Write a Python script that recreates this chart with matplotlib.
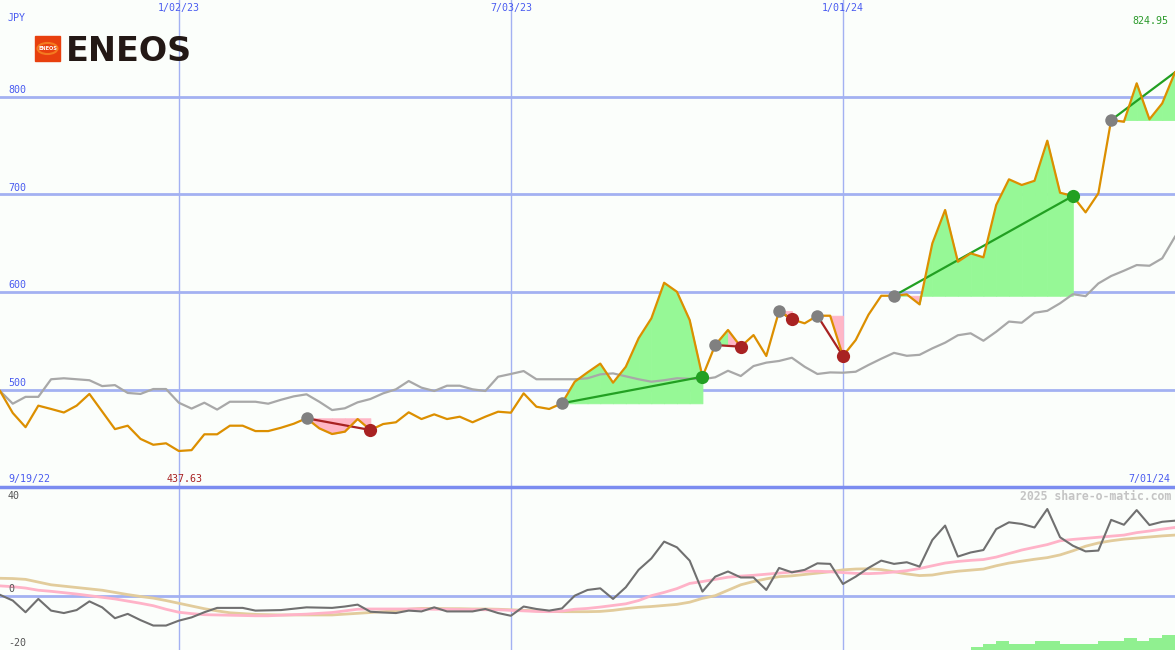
import matplotlib
matplotlib.use('Agg')
import matplotlib.pyplot as plt
import pandas as pd
from matplotlib.patches import Rectangle, Circle

# weekly closes, ENEOS (JPY)
dates = pd.date_range('2022-09-26', periods=93, freq='7D')
close = [499.0, 476.5, 462.0, 484.0, 480.6, 477.0, 484.0, 496.0, 478.0, 460.0,
         463.5, 450.0, 444.0, 445.5, 437.63, 438.5, 454.7, 454.7, 463.5, 463.5,
         458.0, 458.0, 461.4, 465.5, 471.1, 460.8, 455.0, 457.4, 470.3, 459.1,
         465.2, 467.0, 477.2, 470.3, 475.1, 470.3, 472.7, 467.0, 472.7, 477.8,
         476.8, 496.6, 482.9, 480.6, 486.4, 508.5, 518.0, 527.0, 507.5, 523.8,
         552.9, 573.3, 609.7, 600.5, 571.6, 513.6, 546.0, 561.4, 544.3, 556.2,
         534.8, 580.8, 572.3, 568.2, 576.0, 576.0, 534.8, 551.1, 577.0, 596.4,
         596.4, 597.8, 587.6, 650.0, 684.1, 631.2, 639.8, 635.7, 689.2, 715.5,
         709.7, 714.0, 755.0, 701.8, 698.4, 681.7, 701.2, 776.1, 774.4, 813.7,
         776.9, 793.2, 824.95]

# comparison index, rebased
index_line = [499, 486, 493, 493, 511, 512, 511, 510, 504, 505,
              497, 496, 501, 501, 487, 481, 487, 480, 488, 488,
              488, 486, 490, 493.5, 495.6, 488, 479.5, 481.3, 487.4, 490.8,
              496.6, 500.7, 509.2, 502.4, 499, 504.4, 504.4, 500.7, 499, 513.6,
              516.4, 519.4, 511, 511, 511, 511, 512, 516, 517, 514,
              511, 508.5, 510, 512, 511.5, 511, 513, 519.7, 514.3, 524.5,
              528, 529.7, 533, 523.8, 516.4, 518, 517.7, 518.7, 525.6, 532,
              538, 535, 536, 542.6, 548.4, 556, 558, 550.4, 559.6, 570,
              568.8, 579, 581, 588.7, 598, 596, 609, 616.6, 622, 627.8,
              627.1, 634.7, 656.8]

# lower panel: relative strength and its two averages
rel = [0.3, -1.8, -6.1, -1.2, -5.5, -6.4, -5.3, -2.1, -4.3, -8.3,
       -6.7, -9.0, -11.0, -11.0, -9.2, -8.0, -6.1, -4.5, -4.5, -4.5,
       -5.5, -5.4, -5.3, -4.8, -4.3, -4.4, -4.5, -4.0, -3.3, -5.9,
       -6.2, -6.4, -5.5, -5.8, -4.3, -5.8, -5.8, -5.8, -4.9, -6.4,
       -7.4, -4.0, -4.9, -5.5, -4.7, 0.0, 2.1, 2.7, -1.2, 3.1,
       9.5, 13.7, 19.9, 17.8, 12.9, 1.5, 7.0, 8.9, 6.7, 6.7,
       2.1, 10.2, 8.6, 9.5, 11.9, 11.7, 4.3, 7.0, 10.2, 12.9,
       11.7, 12.3, 10.7, 20.5, 25.8, 14.4, 15.9, 16.8, 24.5, 27.0,
       26.4, 25.1, 31.9, 21.5, 18.4, 16.3, 16.6, 27.9, 26.1, 31.5,
       26.0, 27.2, 27.6]
rel_fast = [3.6, 3.3, 2.8, 2.0, 1.6, 1.1, 0.6, 0.0, -0.6, -1.2,
            -2.0, -2.8, -3.7, -5.0, -6.1, -6.6, -7.0, -7.1, -7.2, -7.3,
            -7.4, -7.4, -7.2, -7.0, -6.8, -6.5, -6.2, -5.6, -5.0, -4.9,
            -4.9, -4.9, -4.9, -4.9, -5.0, -5.0, -5.1, -5.1, -5.2, -5.2,
            -5.4, -5.6, -5.8, -5.9, -5.7, -5.0, -4.7, -4.2, -3.6, -3.0,
            -1.8, 0.0, 1.2, 2.6, 4.5, 5.2, 6.0, 6.8, 7.2, 7.5,
            7.9, 8.3, 8.7, 9.0, 9.0, 8.8, 8.5, 8.2, 8.1, 8.3,
            8.7, 9.2, 10.0, 11.0, 12.0, 12.6, 13.0, 13.3, 14.2, 15.5,
            16.8, 17.8, 18.8, 20.2, 20.7, 21.1, 21.5, 21.9, 22.3, 23.2,
            23.8, 24.5, 25.1]
rel_slow = [6.4, 6.3, 6.0, 5.0, 4.0, 3.5, 3.0, 2.5, 2.0, 1.2,
            0.4, -0.3, -0.9, -1.8, -2.8, -3.8, -4.8, -5.6, -6.3, -6.6,
            -6.9, -7.0, -7.1, -7.1, -7.1, -7.1, -7.1, -6.8, -6.5, -6.2,
            -5.9, -5.5, -5.0, -4.7, -4.7, -4.8, -4.8, -4.9, -4.9, -5.0,
            -5.2, -5.4, -5.6, -5.8, -5.9, -5.9, -5.9, -5.8, -5.4, -4.8,
            -4.3, -4.0, -3.6, -3.2, -2.4, -1.0, 0.0, 2.0, 4.0, 5.2,
            6.2, 7.0, 7.3, 7.8, 8.3, 8.8, 9.5, 9.8, 9.9, 9.6,
            8.8, 8.0, 7.4, 7.6, 8.4, 9.0, 9.4, 9.8, 11.0, 12.0,
            12.7, 13.4, 14.0, 15.0, 16.5, 18.2, 19.4, 20.2, 20.8, 21.2,
            21.6, 22.0, 22.3]

# bars from week 76 on
bar_first = 76
bar_vals = [1.2, 2.2, 3.3, 2.2, 2.2, 3.3, 3.3, 2.2, 2.2, 2.2, 3.3, 3.3, 4.4, 3.3, 4.4, 5.5]

# trade signals (week numbers); last one still open
entries = [24, 44, 56, 61, 64, 70, 87]
exits = [29, 55, 58, 62, 66, 84, 92]

grid_dates = ['2023-01-02', '2023-07-03', '2024-01-01']
grid_labels = ['1/02/23', '7/03/23', '1/01/24']
price_levels = [500, 600, 700, 800]

bg = '#fbfefb'
grid_c = '#a3b1f2'
blue = '#4a5cf0'
green_fill = '#96f896'
pink_fill = '#ffb6c6'
green_line = '#22a022'
red_line = '#a82222'
mono = 'DejaVu Sans Mono'

W, H = 1175, 650
fig = plt.figure(figsize=(W / 100, H / 100), dpi=100)
fig.patch.set_facecolor(bg)
ax = fig.add_axes([0, 163 / H, 1, 487 / H])
ax2 = fig.add_axes([0, 0, 1, 163 / H])
for a in (ax, ax2):
    a.axis('off')
    a.set_xlim(dates[0], dates[-1])
ax.set_ylim(400.8, 898.9)
ax2.set_ylim(-20, 40)

for v in price_levels:
    ax.axhline(v, color=grid_c, lw=2, zorder=0)
for d in grid_dates:
    ax.axvline(pd.Timestamp(d), color=grid_c, lw=1, zorder=0)
    ax2.axvline(pd.Timestamp(d), color=grid_c, lw=1, zorder=0)
ax2.axhline(0, color=grid_c, lw=2, zorder=0)
ax2.axhline(40, color='#7b8cf0', lw=2.5, zorder=5, clip_on=False)

# fills between price and entry level
for n, (e, x) in enumerate(zip(entries, exits)):
    lvl = close[e]
    for k in range(e, x):
        c = green_fill if close[k + 1] > lvl else pink_fill
        ax.fill_between(dates[k:k + 2], close[k:k + 2], lvl, color=c, lw=0.6, zorder=1)

ax.plot(dates, index_line, color='#a8a8a8', lw=1.6, zorder=2)

for n, (e, x) in enumerate(zip(entries, exits)):
    win = close[x] > close[e]
    lc = green_line if win else red_line
    ax.plot([dates[e], dates[x]], [close[e], close[x]], color=lc, lw=1.6, zorder=3)

ax.plot(dates, close, color='#dc8f00', lw=1.6, zorder=4)

for n, (e, x) in enumerate(zip(entries, exits)):
    ax.plot(dates[e], close[e], 'o', color='#808080', ms=9, mec='none', zorder=5)
    if n < len(entries) - 1:
        dc = green_line if close[x] > close[e] else red_line
        ax.plot(dates[x], close[x], 'o', color=dc, ms=9.5, mec='none', zorder=5)

# lower panel
ax2.bar(dates[bar_first:bar_first + len(bar_vals)], bar_vals, width=7, align='edge',
        bottom=-20, color='#90f090', zorder=1)
ax2.plot(dates, rel_slow, color='#e2cc9c', lw=2, zorder=2)
ax2.plot(dates, rel_fast, color='#ffb3c8', lw=2, zorder=2)
ax2.plot(dates, rel, color='#707070', lw=1.5, zorder=3)

# labels
fs = 7.2
for d, lab in zip(grid_dates, grid_labels):
    ax.text(pd.Timestamp(d), 1 - 3 / 487, lab, transform=ax.get_xaxis_transform(),
            ha='center', va='top', color=blue, family=mono, fontsize=fs)
ytr = ax.get_yaxis_transform()
for v in price_levels:
    ax.annotate(str(v), (8 / W, v), xycoords=ytr, xytext=(0, 5), textcoords='offset points',
                ha='left', va='center', color=blue, family=mono, fontsize=fs)
fig.text(8 / W, 1 - 18 / H, 'JPY', ha='left', va='center', color=blue, family=mono, fontsize=fs)
fig.text(1168 / W, 1 - 21 / H, '%.2f' % close[-1], ha='right', va='center',
         color='#2a9a2a', family=mono, fontsize=fs)

low = min(close)
ilow = close.index(low)
fig.text(8 / W, 1 - 479 / H, '9/19/22', ha='left', va='center', color=blue, family=mono, fontsize=fs)
ax.annotate('%.2f' % low, (dates[ilow], 400.8), xytext=(4, 5.8), textcoords='offset points',
            ha='center', va='center', color='#a82222', family=mono, fontsize=fs)
fig.text(1170 / W, 1 - 479 / H, '7/01/24', ha='right', va='center', color=blue, family=mono, fontsize=fs)
fig.text(1171 / W, 1 - 496 / H, '2025 share-o-matic.com', ha='right', va='center',
         color='#c4c4c4', family=mono, fontsize=8.3, weight='bold')

fig.text(8 / W, 1 - 496 / H, '40', ha='left', va='center', color='#555555', family=mono, fontsize=fs)
fig.text(8 / W, 1 - 589 / H, '0', ha='left', va='center', color='#555555', family=mono, fontsize=fs)
fig.text(8 / W, 1 - 643 / H, '-20', ha='left', va='center', color='#555555', family=mono, fontsize=fs)

# logo
fig.add_artist(Rectangle((35 / W, 1 - 61 / H), 25 / W, 25 / H, transform=fig.transFigure,
                         color='#e8400e', zorder=10))
fig.add_artist(Circle((47.5 / W, 1 - 48.5 / H), 10 / W, transform=fig.transFigure,
                      fill=False, ec='#f47a20', lw=1.5, zorder=11))
fig.text(47.5 / W, 1 - 48.5 / H, 'ENEOS', ha='center', va='center', color='white',
         fontsize=3.6, weight='bold', zorder=12)
fig.text(66 / W, 1 - 61 / H, 'ENEOS', ha='left', va='baseline', color='#231815',
         fontsize=24, weight='bold')

fig.savefig('out.png', dpi=100, facecolor=bg)
